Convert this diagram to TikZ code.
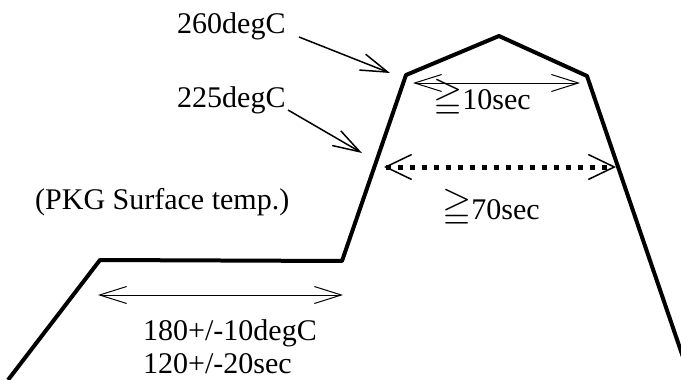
\documentclass[tikz,border=0pt]{standalone}
\usepackage{amssymb}
\usepackage{graphicx}
\usepackage{fontspec}
\setmainfont{Liberation Serif}
\usetikzlibrary{arrows.meta}
\newcommand{\mygeq}{\raisebox{0.04em}{\scalebox{1.25}{$\geqq$}}}
\begin{document}
\begin{tikzpicture}[x=1pt,y=-1pt,
  lbl/.style={anchor=base west,inner sep=0pt,font=\fontsize{30}{34}\selectfont},
  profile/.style={line width=4pt,line join=round},
  callout/.style={line width=1.5pt,-{Straight Barb[length=27pt,width=17pt,line width=1.5pt]}},
  span/.style={line width=1pt,{Straight Barb[length=27pt,width=17pt,line width=1pt]}-{Straight Barb[length=27pt,width=17pt,line width=1pt]}},
  dotspan/.style={line width=5pt,dash pattern=on 5pt off 7pt,
    {Straight Barb[length=26pt,width=25pt,line width=1.5pt]}-{Straight Barb[length=26pt,width=25pt,line width=1.5pt]}}]
\useasboundingbox (0,0) rectangle (681,380);
% profile points
\coordinate (p0) at (8,380);
\coordinate (p1) at (100,260);
\coordinate (p2) at (342,261);
\coordinate (p3) at (406,75);
\coordinate (p4) at (499,36);
\coordinate (p5) at (587,76);
\coordinate (p6) at (684,360);
\draw[profile] (p0) -- (p1) -- (p2) -- (p3) -- (p4) -- (p5) -- (p6);
% labels
\node[lbl] (t260) at (177,33) {260degC};
\node[lbl] (t225) at (177,107) {225degC};
\node[lbl] (tpkg) at (35,209) {(PKG Surface temp.)};
\node[lbl] (t10) at (433,109) {\mygeq10sec};
\node[lbl] (t70) at (442,219) {\mygeq70sec};
\node[lbl] (t180) at (143,340) {180+/-10degC};
\node[lbl] (t120) at (143,373) {120+/-20sec};
% callouts
\coordinate (a260s) at (299,37);
\coordinate (a260e) at (390,73);
\coordinate (a225s) at (288,110);
\coordinate (a225e) at (362,153);
\draw[callout] (a260s) -- (a260e);
\draw[callout] (a225s) -- (a225e);
% spans
\coordinate (s10l) at (413,83);
\coordinate (s10r) at (580,83);
\draw[span] (s10l) -- (s10r);
\coordinate (s70l) at (384,167);
\coordinate (s70r) at (616,167);
\draw[dotspan] (s70l) -- (s70r);
\coordinate (sbl) at (98,295);
\coordinate (sbr) at (343,295);
\draw[span] (sbl) -- (sbr);
\end{tikzpicture}
\end{document}
